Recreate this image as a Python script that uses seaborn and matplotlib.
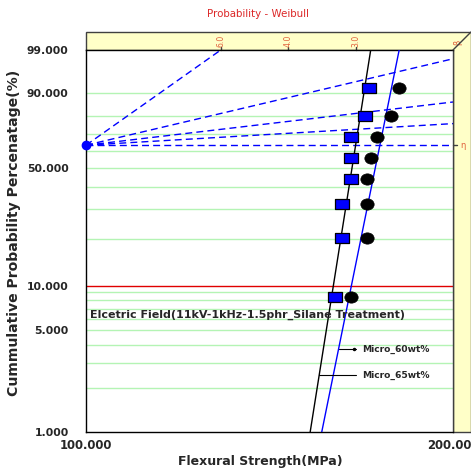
import numpy as np
import matplotlib
matplotlib.use("Agg")
import matplotlib.pyplot as plt
import matplotlib.transforms as mtransforms
from matplotlib.path import Path
from matplotlib.patches import Polygon
from matplotlib.lines import Line2D
import seaborn as sns

# ---------------- data ----------------
rank_pct = [8.33, 20.24, 32.14, 44.05, 55.95, 67.86, 79.76, 91.67]
micro65_strength = [160.1, 162.1, 162.1, 165.0, 165.0, 165.0, 169.4, 170.7]
micro60_strength = [164.9, 169.9, 169.9, 169.9, 171.2, 173.2, 177.8, 180.7]
beta_65, eta_65 = 53.6, 166.4
beta_60, eta_60 = 41.9, 174.2
series_names = ["Micro_60wt%", "Micro_65wt%"]
label_pct = [3.73, 2.47]

y_ticks = [1, 5, 10, 50, 90, 99]
y_tick_labels = ["1.000", "5.000", "10.000", "50.000", "90.000", "99.000"]
grid_levels = [2, 3, 4, 5, 6, 7, 8, 9, 10, 20, 30, 40, 50, 60, 70, 80, 90]
x_ticks = [100, 200]
x_tick_labels = ["100.000", "200.000"]
beta_scale = [6.0, 4.0, 3.0]
guide_betas = [6, 2, 1, 0.5, 0]
pivot_x, pivot_pct = 100, 63.21

# ---------------- figure ----------------
W, H = 471, 470
fig = plt.figure(figsize=(W / 100, H / 100), dpi=100)
sns.set_style("white")
plt.rcParams["font.family"] = ["DejaVu Sans"]

L, R, T, B = 86, 453, 50, 432
ax = fig.add_axes([L / W, 1 - B / H, (R - L) / W, (B - T) / H])


def fx(px):
    return px / W


def fy(py):
    return 1 - py / H


# 3D-like yellow frame
yellow = "#ffffc8"
edge = "#404040"
poly = Polygon([(fx(86), fy(50)), (fx(86), fy(32)), (fx(471), fy(32)), (fx(471), fy(432)),
                (fx(453), fy(432)), (fx(453), fy(50))], closed=True,
               transform=fig.transFigure, facecolor=yellow, edgecolor=edge, lw=1, zorder=0)
fig.add_artist(poly)
fig.add_artist(Line2D([fx(453), fx(471)], [fy(50), fy(32)], transform=fig.transFigure,
                      color=edge, lw=1))


def fwd(p):
    p = np.clip(np.asarray(p, dtype=float), 1e-9, 100 - 1e-9)
    return np.log(-np.log(1 - p / 100.0))


def inv(w):
    return 100.0 * (1 - np.exp(-np.exp(np.asarray(w, dtype=float))))


ax.set_xscale("log")
ax.set_yscale("function", functions=(fwd, inv))
ax.set_xlim(100, 200)
ax.set_ylim(1, 99)

# grid lines
for lvl in grid_levels:
    ax.axhline(lvl, color="#e00000" if lvl == 10 else "#b4f4b4", lw=1, zorder=0.5)

# guide lines from pivot
xs = np.geomspace(100, 200, 400)
for b in guide_betas:
    pct = inv(b * np.log(xs / pivot_x) + fwd(pivot_pct))
    sns.lineplot(x=xs, y=pct, sort=False, ax=ax, color="#0000ff", lw=1,
                 dashes=False, zorder=2).lines[-1].set_dashes((5, 3))
ax.plot([pivot_x], [pivot_pct], marker="o", ms=6, color="#0000ff", clip_on=False, zorder=6)

# fitted Weibull lines
fgrid = np.linspace(0.5, 99.5, 400)
for beta, eta, col in [(beta_65, eta_65, "black"), (beta_60, eta_60, "#0000ff")]:
    xf = eta * (-np.log(1 - fgrid / 100)) ** (1 / beta)
    sns.lineplot(x=xf, y=fgrid, sort=False, ax=ax, color=col, lw=1, zorder=3)

# data points
rect = Path([(-1.3, -1), (1.3, -1), (1.3, 1), (-1.3, 1), (-1.3, -1)],
            [Path.MOVETO, Path.LINETO, Path.LINETO, Path.LINETO, Path.CLOSEPOLY])
circ = Path.unit_circle()
ell = Path(circ.vertices * np.array([1.18, 1.0]), circ.codes)
sns.scatterplot(x=micro65_strength, y=rank_pct, marker=rect, s=88, color="#0000ff",
                edgecolor="black", linewidth=0.9, ax=ax, zorder=5)
sns.scatterplot(x=micro60_strength, y=rank_pct, marker=ell, s=92, color="black",
                edgecolor="black", linewidth=0.5, ax=ax, zorder=5)

# leader labels
label_x_end = 166.5
text_x = 168.4
for name, pct, beta, eta in [(series_names[0], label_pct[0], beta_60, eta_60),
                             (series_names[1], label_pct[1], beta_65, eta_65)]:
    x0 = eta * (-np.log(1 - pct / 100)) ** (1 / beta)
    ax.plot([x0, label_x_end], [pct, pct], color="black", lw=0.8, zorder=4)
    ax.text(text_x, pct, name, fontsize=6.6, fontweight="bold", va="center", ha="left")
ax.plot([label_x_end - 0.6], [label_pct[0]], marker="o", ms=1.5, color="black")

ax.text((90.5 - L) / (R - L), (B - 315) / (B - T),
        "Elcetric Field(11kV-1kHz-1.5phr_Silane Treatment)",
        transform=ax.transAxes, fontsize=8.0, fontweight="bold", va="center", ha="left")

# ticks
ax.set_xticks(x_ticks)
ax.set_xticklabels(x_tick_labels)
ax.xaxis.set_minor_locator(matplotlib.ticker.NullLocator())
ax.set_yticks(y_ticks)
ax.set_yticklabels(y_tick_labels)
ax.yaxis.set_minor_locator(matplotlib.ticker.FixedLocator([l for l in grid_levels if l not in y_ticks]))
ax.tick_params(axis="y", which="major", length=5, width=1, pad=7.5, labelsize=7.8)
ax.tick_params(axis="y", which="minor", length=3, width=1, color="#b4f4b4")
ax.tick_params(axis="x", which="major", length=3.5, width=1, pad=1.5, labelsize=8.4)
for lab in ax.get_xticklabels() + ax.get_yticklabels():
    lab.set_fontweight("bold")
tick_cols = {1: "black", 5: "#b4f4b4", 10: "#e00000", 50: "#b4f4b4", 90: "#b4f4b4", 99: "black"}
for t, v in zip(ax.yaxis.get_major_ticks(), y_ticks):
    t.tick1line.set_color(tick_cols[v])

for s in ax.spines.values():
    s.set_color("black")
    s.set_linewidth(1)
ax.spines["right"].set_color(edge)

ax.set_xlabel("Flexural Strength(MPa)", fontsize=9, fontweight="bold")
ax.xaxis.set_label_coords((260 - L) / (R - L), -(461 - B) / (B - T))
ax.set_ylabel("Cummulative Probability Percenatage(%)", fontsize=10.1, fontweight="bold")
ax.yaxis.set_label_coords(-(L - 14) / (R - L), (B - 233) / (B - T))
ax.xaxis.label.set_va("center")
ax.yaxis.label.set_va("center")

# beta scale on the top band
orange = "#e0603c"
btrans = mtransforms.blended_transform_factory(ax.transData, ax.transAxes)
for b in beta_scale:
    xb = pivot_x * np.exp((fwd(99) - fwd(pivot_pct)) / b)
    ax.plot([xb, xb], [1.0, 1.0 + 3 / (B - T)], transform=btrans, color=edge, lw=1, clip_on=False)
    ax.text(xb, 1.0 + 9 / (B - T), f"{b:.1f}", transform=btrans, rotation=90, fontsize=5.6,
            color=orange, ha="center", va="center")
ax.text(200, 1.0 + 8 / (B - T), "β", transform=btrans, rotation=90, fontsize=6,
        color=orange, ha="left", va="center")
etrans = mtransforms.blended_transform_factory(ax.transAxes, ax.transData)
ax.plot([1.0, 1.0 + 4 / (R - L)], [pivot_pct, pivot_pct], transform=etrans, color=edge, lw=1,
        clip_on=False)
ax.text(1.0 + 7 / (R - L), pivot_pct, "η", transform=etrans, fontsize=6, color=orange,
        ha="left", va="center")

fig.text(fx(258), fy(14), "Probability - Weibull", color="#dc2828", fontsize=7.4,
         ha="center", va="center")

ax.set_facecolor("white")
fig.savefig("out.png", dpi=100)
